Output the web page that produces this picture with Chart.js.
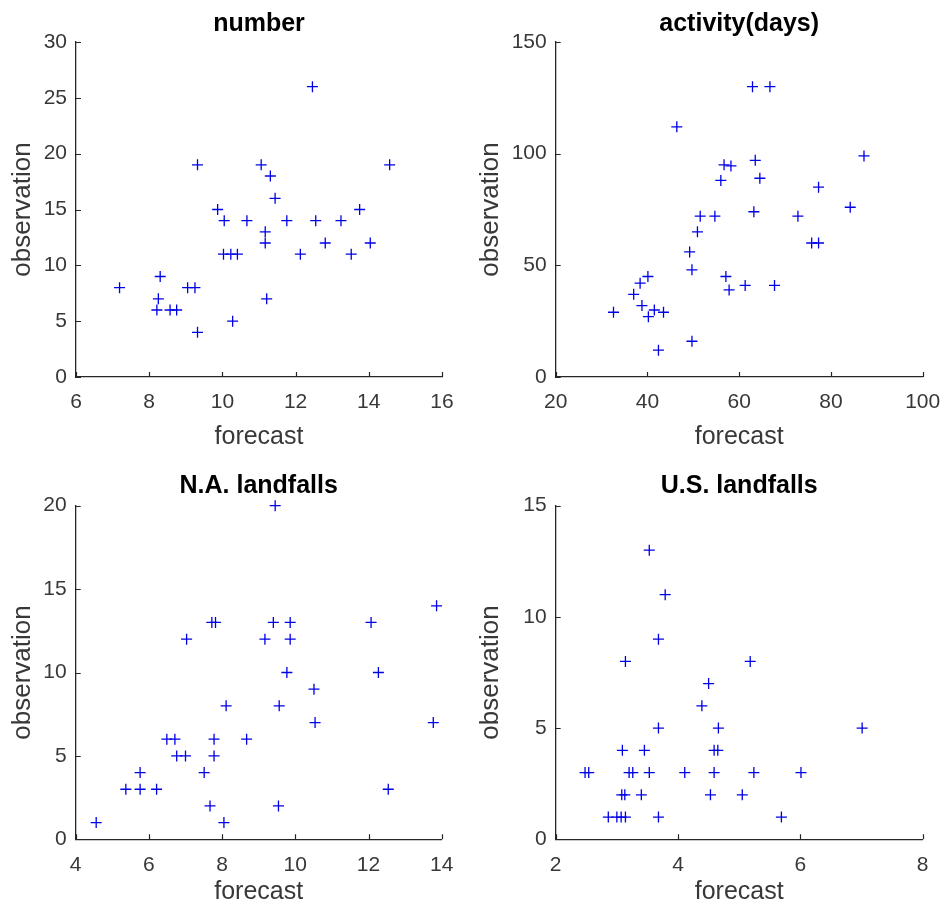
<!DOCTYPE html>
<html><head><meta charset="utf-8">
<script src="https://cdn.jsdelivr.net/npm/chart.js@4.4.1/dist/chart.umd.min.js"></script>
<style>
html,body{margin:0;padding:0;background:#fff;}
#wrap{position:relative;width:943px;height:913px;background:#fff;}
canvas{position:absolute;display:block;}
</style></head><body>
<div id="wrap">
<canvas id="c1" width="471" height="456" style="left:0;top:0;width:471px;height:456px"></canvas>
<canvas id="c2" width="472" height="456" style="left:471px;top:0;width:472px;height:456px"></canvas>
<canvas id="c3" width="471" height="457" style="left:0;top:456px;width:471px;height:457px"></canvas>
<canvas id="c4" width="472" height="457" style="left:471px;top:456px;width:472px;height:457px"></canvas>
</div>
<script>
// ---- data ----
const titles = ['number', 'activity(days)', 'N.A. landfalls', 'U.S. landfalls'];
const xLabel = 'forecast';
const yLabel = 'observation';

const forecastNumber = [12.46, 9.32, 11.06, 14.57, 11.31, 11.44, 9.87, 13.75, 10.05, 10.67, 11.76, 12.55, 13.24, 11.17, 11.17, 12.81, 14.04, 10.03, 10.23, 10.41, 12.13, 13.52, 7.19, 8.30, 8.25, 11.21, 9.05, 9.25, 8.21, 8.57, 8.75, 10.28, 9.32];
const observedNumber = [26, 19, 19, 19, 18, 16, 15, 15, 14, 14, 14, 14, 14, 13, 12, 12, 12, 11, 11, 11, 11, 11, 8, 9, 7, 7, 8, 8, 6, 6, 6, 5, 4];

const forecastActivity = [62.9, 66.7, 46.4, 87.2, 63.5, 56.7, 58.2, 56.0, 64.5, 77.3, 84.2, 63.2, 51.5, 54.7, 72.8, 50.9, 75.8, 77.3, 49.2, 49.7, 57.1, 40.1, 38.4, 57.8, 61.3, 67.7, 37.0, 38.8, 32.6, 40.2, 41.5, 43.5, 49.7, 42.4];
const observedActivity = [130, 130, 112, 99, 97, 95, 94.5, 88, 89, 85, 76, 74, 72, 72, 72, 65, 60, 60, 56, 48, 45, 45, 42, 39, 41, 41, 37, 32, 29, 27, 30, 29, 16, 12];

const forecastNA = [9.45, 13.86, 7.72, 7.82, 9.40, 9.86, 12.07, 7.03, 9.17, 9.86, 9.77, 12.27, 10.51, 8.11, 9.56, 10.54, 13.77, 6.49, 6.71, 7.78, 8.67, 6.76, 7.0, 7.78, 5.76, 7.51, 5.37, 5.76, 6.21, 12.54, 7.67, 9.54, 4.56, 8.05];
const observedNA = [20, 14, 13, 13, 13, 13, 13, 12, 12, 12, 10, 10, 9, 8, 8, 7, 7, 6, 6, 6, 6, 5, 5, 5, 4, 4, 3, 3, 3, 3, 2, 2, 1, 1];

const forecastUS = [3.53, 3.79, 3.68, 3.14, 5.18, 4.50, 4.39, 3.68, 4.66, 7.01, 3.09, 3.45, 4.59, 4.65, 2.48, 2.54, 3.20, 3.26, 3.53, 4.11, 4.59, 5.24, 6.01, 3.08, 3.13, 3.40, 4.53, 5.05, 2.86, 3.0, 3.07, 3.14, 3.68, 5.69];
const observedUS = [13, 11, 9, 8, 8, 7, 6, 5, 5, 5, 4, 4, 4, 4, 3, 3, 3, 3, 3, 3, 3, 3, 3, 2, 2, 2, 2, 2, 1, 1, 1, 1, 1, 1];

const xTicksNumber = [6, 8, 10, 12, 14, 16];
const yTicksNumber = [0, 5, 10, 15, 20, 25, 30];
const xTicksActivity = [20, 40, 60, 80, 100];
const yTicksActivity = [0, 50, 100, 150];
const xTicksNA = [4, 6, 8, 10, 12, 14];
const yTicksNA = [0, 5, 10, 15, 20];
const xTicksUS = [2, 4, 6, 8];
const yTicksUS = [0, 5, 10, 15];

// ---- style ----
const FONT = "'Liberation Sans', Arial, sans-serif";
const AXIS = '#262626';
const TXT = '#383838';
const MARK = '#0000e6';
const TL = 5;

const inwardTicks = {
  id: 'inwardTicks',
  afterDraw(chart) {
    const ctx = chart.ctx, a = chart.chartArea;
    const xs = chart.scales.x, ys = chart.scales.y;
    ctx.save();
    ctx.strokeStyle = AXIS;
    ctx.lineWidth = 1.2;
    ctx.beginPath();
    xs.ticks.forEach(t => {
      const p = Math.round(xs.getPixelForValue(t.value)) + 0.5;
      ctx.moveTo(p, a.bottom); ctx.lineTo(p, a.bottom - TL);
    });
    ys.ticks.forEach(t => {
      const p = Math.round(ys.getPixelForValue(t.value)) + 0.5;
      ctx.moveTo(a.left, p); ctx.lineTo(a.left + TL, p);
    });
    ctx.stroke();
    ctx.restore();
  }
};

function build(id, fx, oy, xTicks, yTicks, title, g) {
  const pts = fx.map((v, i) => ({x: v, y: oy[i]}));
  return new Chart(document.getElementById(id), {
    type: 'scatter',
    data: { datasets: [{ data: pts, pointStyle: 'cross', pointRadius: 5.5, pointBorderWidth: 1.3,
      borderColor: MARK, backgroundColor: MARK, clip: false }] },
    options: {
      responsive: false, animation: false, events: [],
      layout: { padding: { left: 0, right: g.rp, top: 0, bottom: 0 } },
      plugins: {
        legend: { display: false }, tooltip: { enabled: false },
        title: { display: true, text: title, fullSize: false, color: '#000',
          font: { family: FONT, size: 25, weight: 'bold' }, padding: { top: g.tt, bottom: g.tb } }
      },
      scales: {
        x: {
          type: 'linear', min: xTicks[0], max: xTicks[xTicks.length - 1],
          afterBuildTicks: s => { s.ticks = xTicks.map(v => ({ value: v })); },
          afterFit: s => { s.height = g.xh; s.paddingLeft = 0; s.paddingRight = 0; },
          grid: { display: true, drawOnChartArea: false, drawTicks: false, color: 'rgba(0,0,0,0)' },
          border: { display: true, color: AXIS, width: 1.3 },
          ticks: { padding: 13, color: TXT, font: { family: FONT, size: 21 }, maxRotation: 0, autoSkip: false },
          title: { display: true, text: xLabel, color: TXT, font: { family: FONT, size: 25 }, padding: { top: 0, bottom: g.xtb } }
        },
        y: {
          type: 'linear', min: yTicks[0], max: yTicks[yTicks.length - 1],
          afterBuildTicks: s => { s.ticks = yTicks.map(v => ({ value: v })); },
          afterFit: s => { s.width = g.yw; s.paddingTop = 0; s.paddingBottom = 0; },
          grid: { display: true, drawOnChartArea: false, drawTicks: false, color: 'rgba(0,0,0,0)' },
          border: { display: true, color: AXIS, width: 1.3 },
          ticks: { padding: 9, color: TXT, font: { family: FONT, size: 21 }, autoSkip: false },
          title: { display: true, text: yLabel, color: TXT, font: { family: FONT, size: 26 }, padding: { top: g.ytp, bottom: 0 } }
        }
      }
    },
    plugins: [inwardTicks]
  });
}

build('c1', forecastNumber, observedNumber, xTicksNumber, yTicksNumber, titles[0],
  { rp: 29, tt: 9, tb: 3, xh: 79, xtb: 3.5, yw: 76, ytp: 7 });
build('c2', forecastActivity, observedActivity, xTicksActivity, yTicksActivity, titles[1],
  { rp: 20.3, tt: 9, tb: 3, xh: 79, xtb: 3.5, yw: 84.7, ytp: 4.4 });
build('c3', forecastNA, observedNA, xTicksNA, yTicksNA, titles[2],
  { rp: 29.3, tt: 15.6, tb: 4.1, xh: 73.7, xtb: 6, yw: 75.7, ytp: 7 });
build('c4', forecastUS, observedUS, xTicksUS, yTicksUS, titles[3],
  { rp: 20.3, tt: 15.6, tb: 4.1, xh: 73.7, xtb: 6, yw: 84.7, ytp: 4.4 });
</script>
</body></html>
